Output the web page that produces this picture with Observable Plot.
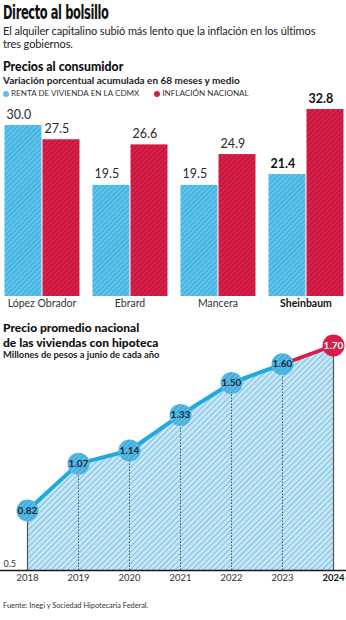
<!DOCTYPE html>
<html><head><meta charset="utf-8">
<script src="https://cdn.jsdelivr.net/npm/d3@7"></script>
<script src="https://cdn.jsdelivr.net/npm/@observablehq/plot@0.6"></script>
<style>
body{margin:0;background:#fff;}
#wrap{position:relative;width:346px;height:620px;overflow:hidden;font-family:Lato,"Open Sans",sans-serif;color:#1b1b1b;}
.t{position:absolute;left:3px;white-space:nowrap;z-index:2;}
#title{top:3px;font-family:"Liberation Sans Narrow","DejaVu Sans Condensed",sans-serif;font-weight:bold;font-size:19px;line-height:19px;letter-spacing:-0.6px;color:#111;transform:scaleX(0.67);transform-origin:0 0;}
.sub{font-size:11px;line-height:12.5px;letter-spacing:-0.1px;color:#222;}
#sub1{top:24.5px;}
#sub2{top:37.5px;}
#h1{top:60px;font-size:12.3px;line-height:13px;font-weight:900;color:#111;}
#h1s{top:74.5px;font-size:10px;line-height:11px;font-weight:bold;color:#222;}
#legend{top:88px;font-size:8.1px;line-height:10px;color:#333;}
#legend span.dot{display:inline-block;width:6px;height:6px;border-radius:50%;margin-right:2px;vertical-align:-0.5px;}
#legend span.item{display:inline-block;}
#c1{position:absolute;left:0;top:92px;z-index:1;}
.h2{font-size:12px;line-height:13px;font-weight:900;color:#111;}
#h2a{top:321px;}
#h2b{top:335.6px;}
#h2s{top:350.3px;font-size:9.4px;line-height:9.5px;font-weight:bold;color:#222;}
#c2{position:absolute;left:0;top:320px;z-index:1;}
#src{top:602px;font-size:7.4px;line-height:8px;color:#333;}
</style></head><body><div id="wrap">
<div class="t" id="title">Directo al bolsillo</div>
<div class="t sub" id="sub1">El alquiler capitalino subió más lento que la inflación en los últimos</div>
<div class="t sub" id="sub2">tres gobiernos.</div>
<div class="t" id="h1">Precios al consumidor</div>
<div class="t" id="h1s">Variación porcentual acumulada en 68 meses y medio</div>
<div class="t" id="legend"></div>
<div id="c1"></div>
<div class="t h2" id="h2a">Precio promedio nacional</div>
<div class="t h2" id="h2b">de las viviendas con hipoteca</div>
<div class="t" id="h2s">Millones de pesos a junio de cada año</div>
<div id="c2"></div>
<div class="t" id="src">Fuente: Inegi y Sociedad Hipotecaria Federal.</div>
</div>
<script>
// ---- data: chart 1 ----
const governments = ["López Obrador", "Ebrard", "Mancera", "Sheinbaum"];
const seriesKeys = ["renta", "inflacion"];
const seriesLabels = ["RENTA DE VIVIENDA EN LA CDMX", "INFLACIÓN NACIONAL"];
const rentaCDMX = [30.0, 19.5, 19.5, 21.4];
const inflacionNacional = [27.5, 26.6, 24.9, 32.8];
// ---- data: chart 2 ----
const years = [2018, 2019, 2020, 2021, 2022, 2023, 2024];
const housePrice = [0.82, 1.07, 1.14, 1.33, 1.50, 1.60, 1.70];
const yBaseTicks = [0.5];

const BLUE = "#57C2EA", RED = "#D71E48";
const legendColors = [BLUE, RED];

// legend (HTML)
document.getElementById("legend").innerHTML = seriesLabels.map((s, i) =>
  `<span class="item" style="margin-right:${i === 0 ? 15 : 0}px"><span class="dot" style="background:${legendColors[i]}"></span>${s}</span>`
).join("");

function addPatterns(svg, defsList) {
  const defs = d3.select(svg).insert("defs", ":first-child");
  for (const p of defsList) {
    const pat = defs.append("pattern").attr("id", p.id).attr("patternUnits", "userSpaceOnUse")
      .attr("width", p.size).attr("height", p.size).attr("patternTransform", "rotate(45)");
    pat.append("rect").attr("width", p.size).attr("height", p.size).attr("fill", p.base);
    pat.append("rect").attr("width", p.stripe).attr("height", p.size).attr("fill", p.line);
  }
}

// ---- chart 1 ----
const barData = [];
governments.forEach((g, i) => {
  barData.push({gov: g, series: "renta", value: rentaCDMX[i]});
  barData.push({gov: g, series: "inflacion", value: inflacionNacional[i]});
});
const fillFor = d => d.series === "renta" ? "url(#hatchBlue)" : "url(#hatchRed)";
const isLast = d => d.gov === "Sheinbaum";

const c1 = Plot.plot({
  width: 346, height: 225,
  marginTop: 4.5, marginBottom: 21, marginLeft: 3, marginRight: 2,
  style: {fontFamily: "Lato, 'Open Sans', sans-serif", background: "transparent", overflow: "visible"},
  fx: {domain: governments, paddingInner: 0.125, paddingOuter: 0, axis: null},
  x: {domain: seriesKeys, padding: 0, axis: null},
  y: {domain: [0, 35], axis: null},
  color: {type: "identity"},
  marks: [
    Plot.barY(barData, {fx: "gov", x: "series", y: "value", fill: fillFor, insetLeft: 0.5, insetRight: 0.5}),
    Plot.text(barData.filter(d => !isLast(d)), {fx: "gov", x: "series", y: "value", text: d => d.value.toFixed(1),
      textAnchor: "start", dx: -17, dy: -7, lineAnchor: "bottom", fontSize: 12.5, fill: "#2a2a2a"}),
    Plot.text(barData.filter(isLast), {fx: "gov", x: "series", y: "value", text: d => d.value.toFixed(1),
      textAnchor: "start", dx: -17, dy: -7, lineAnchor: "bottom", fontSize: 12.5, fontWeight: "bold", fill: "#111"}),
    Plot.text(governments.filter(g => g !== "Sheinbaum"), {fx: d => d, text: d => d, frameAnchor: "bottom", dy: 10,
      fontSize: 10.5, fill: "#333"}),
    Plot.text(governments.filter(g => g === "Sheinbaum"), {fx: d => d, text: d => d, frameAnchor: "bottom", dy: 10,
      fontSize: 10.5, fontWeight: "bold", fill: "#111"})
  ]
});
addPatterns(c1, [
  {id: "hatchBlue", size: 3.6, stripe: 1.3, base: "#5CC6EE", line: "#45AAD6"},
  {id: "hatchRed", size: 3.6, stripe: 1.3, base: "#D9214B", line: "#BF1239"}
]);
document.getElementById("c1").appendChild(c1);

// ---- chart 2 ----
const priceData = years.map((y, i) => ({year: y, value: housePrice[i]}));
const lastYear = years[years.length - 1];
const firstYear = years[0];
const blueLine = priceData.filter(d => d.year < lastYear);
const redLine = priceData.filter(d => d.year >= years[years.length - 2]);
const inner = priceData.filter(d => d.year !== firstYear && d.year !== lastYear);
const ends = priceData.filter(d => d.year === firstYear || d.year === lastYear);

const c2 = Plot.plot({
  width: 346, height: 275,
  marginTop: 25, marginBottom: 25, marginLeft: 27, marginRight: 13,
  style: {fontFamily: "Lato, 'Open Sans', sans-serif", background: "transparent", overflow: "visible"},
  x: {domain: [firstYear, lastYear], axis: null},
  y: {domain: [0.5, 1.7], axis: null},
  marks: [
    Plot.areaY(priceData, {x: "year", y1: 0.5, y2: "value", fill: "url(#hatchArea)"}),
    Plot.ruleX(inner, {x: "year", y1: 0.5, y2: "value", stroke: "#3a3a3a", strokeWidth: 0.8, strokeDasharray: "1.5,1.5"}),
    Plot.ruleX(ends, {x: "year", y1: 0.5, y2: "value", stroke: "#555", strokeWidth: 1.2}),
    Plot.ruleY(yBaseTicks, {stroke: "#1a1a1a", strokeWidth: 1.5, insetLeft: -27, insetRight: -13}),
    Plot.text(yBaseTicks, {y: d => d, text: d => d.toFixed(1), frameAnchor: "left", dx: -24, dy: -6,
      textAnchor: "start", fontSize: 9, fill: "#333"}),
    Plot.line(blueLine, {x: "year", y: "value", stroke: "#1EA9E1", strokeWidth: 4}),
    Plot.line(redLine, {x: "year", y: "value", stroke: "#D71E48", strokeWidth: 3.5}),
    Plot.dot(blueLine, {x: "year", y: "value", r: 11, fill: "url(#hatchDot)"}),
    Plot.dot(priceData.filter(d => d.year === lastYear), {x: "year", y: "value", r: 11, fill: "#D71E48"}),
    Plot.text(blueLine, {x: "year", y: "value", text: d => d.value.toFixed(2), fontSize: 10, fontWeight: "bold", fill: "#1a2a40"}),
    Plot.text(priceData.filter(d => d.year === lastYear), {x: "year", y: "value", text: d => d.value.toFixed(2), fontSize: 10, fontWeight: "bold", fill: "#fff"}),
    Plot.text(years.filter(y => y !== lastYear), {x: d => d, text: d => String(d), frameAnchor: "bottom", dy: 10, fontSize: 9.5, fill: "#333"}),
    Plot.text(years.filter(y => y === lastYear), {x: d => d, text: d => String(d), frameAnchor: "bottom", dy: 10, fontSize: 9.5, fontWeight: "bold", fill: "#111"})
  ]
});
addPatterns(c2, [
  {id: "hatchArea", size: 4, stripe: 1, base: "#C4E6F5", line: "#7FC0E0"},
  {id: "hatchDot", size: 3.5, stripe: 1.2, base: "#58BDE8", line: "#3FA3D2"}
]);
document.getElementById("c2").appendChild(c2);
</script>
</body></html>
